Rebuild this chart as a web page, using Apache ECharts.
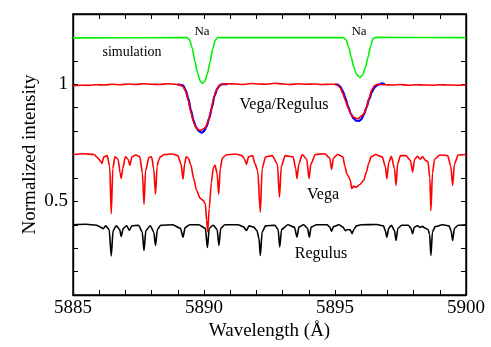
<!DOCTYPE html>
<html>
<head>
<meta charset="utf-8">
<script src="https://cdn.jsdelivr.net/npm/echarts@6/dist/echarts.min.js"></script>
<style>
  html, body { margin: 0; padding: 0; background: #fff; }
  #chart { width: 491px; height: 347px; }
</style>
</head>
<body>
<div id="chart"></div>
<script>
// axis settings
const xMin = 5885, xMax = 5900
const yMin = 0.1, yMax = 1.3

// simulated Na D lines (green)
const simulation = [
  [5885.0, 1.198], [5889.35, 1.199], [5889.45, 1.19], [5889.55, 1.155], [5889.65, 1.10],
  [5889.75, 1.05], [5889.85, 1.015], [5889.94, 1.003], [5890.03, 1.013], [5890.13, 1.045],
  [5890.23, 1.095], [5890.33, 1.15], [5890.43, 1.188], [5890.52, 1.199], [5895.32, 1.199],
  [5895.42, 1.19], [5895.52, 1.16], [5895.62, 1.115], [5895.72, 1.072], [5895.82, 1.042],
  [5895.95, 1.029], [5896.06, 1.04], [5896.16, 1.072], [5896.26, 1.115], [5896.36, 1.165],
  [5896.45, 1.195], [5896.55, 1.2], [5900.0, 1.199]
]

// fit (blue), only around the two dips
const fitD2 = [
  [5889.0, 1.0], [5889.2, 0.995], [5889.3, 0.975], [5889.4, 0.94], [5889.5, 0.89],
  [5889.6, 0.845], [5889.7, 0.815], [5889.8, 0.8], [5889.92, 0.793], [5890.0, 0.8],
  [5890.1, 0.82], [5890.2, 0.855], [5890.3, 0.9], [5890.4, 0.95], [5890.5, 0.98],
  [5890.6, 0.995], [5890.7, 1.0], [5890.9, 1.0]
]
const fitD1 = [
  [5895.0, 1.0], [5895.1, 0.998], [5895.2, 0.99], [5895.3, 0.97], [5895.4, 0.94],
  [5895.5, 0.905], [5895.6, 0.875], [5895.7, 0.855], [5895.8, 0.845], [5895.92, 0.843],
  [5896.0, 0.85], [5896.1, 0.87], [5896.2, 0.9], [5896.3, 0.935], [5896.4, 0.965],
  [5896.5, 0.985], [5896.6, 0.995], [5896.7, 1.0], [5896.8, 1.004], [5896.9, 1.0]
]

// Vega / Regulus ratio (red, top)
const ratio = [
  [5885.0, 0.994], [5885.3, 0.996], [5885.6, 0.995], [5885.9, 0.998], [5886.2, 0.997],
  [5886.5, 1.0], [5886.8, 0.998], [5887.1, 1.001], [5887.4, 0.999], [5887.7, 1.002],
  [5888.0, 1.0], [5888.3, 0.999], [5888.6, 1.002], [5888.9, 1.0], [5889.1, 0.997],
  [5889.2, 0.99], [5889.3, 0.97], [5889.4, 0.93], [5889.5, 0.88], [5889.6, 0.84],
  [5889.7, 0.815], [5889.8, 0.805], [5889.87, 0.803], [5889.95, 0.808], [5890.05, 0.815],
  [5890.15, 0.84], [5890.25, 0.88], [5890.35, 0.93], [5890.45, 0.97], [5890.55, 0.99],
  [5890.65, 1.0], [5890.9, 1.002], [5891.2, 1.001], [5891.5, 0.999], [5891.8, 1.003],
  [5892.1, 1.001], [5892.4, 1.0], [5892.7, 1.004], [5893.0, 1.001], [5893.3, 0.999],
  [5893.6, 1.002], [5893.9, 1.0], [5894.2, 1.001], [5894.5, 0.999], [5894.8, 1.0],
  [5895.0, 1.0], [5895.1, 0.997], [5895.2, 0.985], [5895.3, 0.96], [5895.4, 0.93],
  [5895.5, 0.9], [5895.6, 0.875], [5895.7, 0.86], [5895.8, 0.855], [5895.9, 0.853],
  [5896.0, 0.865], [5896.1, 0.872], [5896.2, 0.9], [5896.3, 0.94], [5896.4, 0.975],
  [5896.5, 0.993], [5896.6, 1.0], [5896.9, 0.998], [5897.2, 0.997], [5897.5, 0.999],
  [5897.8, 0.996], [5898.1, 0.998], [5898.4, 0.997], [5898.7, 0.996], [5899.0, 0.998],
  [5899.3, 0.997], [5899.6, 0.996], [5900.0, 0.997]
]

// Vega spectrum (red, middle)
const vega = [
  [5885.0, 0.7], [5885.4, 0.703], [5885.8, 0.7], [5885.95, 0.685], [5886.05, 0.672],
  [5886.1, 0.662], [5886.18, 0.69], [5886.3, 0.695], [5886.4, 0.65], [5886.46, 0.447],
  [5886.52, 0.64], [5886.6, 0.69], [5886.72, 0.68], [5886.8, 0.62], [5886.84, 0.598],
  [5886.9, 0.64], [5887.0, 0.69], [5887.1, 0.68], [5887.17, 0.654], [5887.25, 0.69],
  [5887.4, 0.698], [5887.55, 0.69], [5887.65, 0.62], [5887.71, 0.487], [5887.77, 0.63],
  [5887.9, 0.688], [5888.0, 0.69], [5888.08, 0.64], [5888.15, 0.53], [5888.21, 0.65],
  [5888.27, 0.675], [5888.33, 0.69], [5888.5, 0.7], [5888.8, 0.702], [5889.0, 0.695],
  [5889.12, 0.66], [5889.2, 0.595], [5889.26, 0.66], [5889.32, 0.69], [5889.4, 0.685],
  [5889.5, 0.655], [5889.6, 0.6], [5889.72, 0.547], [5889.85, 0.513], [5889.97, 0.504],
  [5890.05, 0.49], [5890.1, 0.42], [5890.14, 0.37], [5890.2, 0.47], [5890.28, 0.58],
  [5890.36, 0.645], [5890.42, 0.654], [5890.5, 0.62], [5890.56, 0.53], [5890.62, 0.64],
  [5890.7, 0.685], [5890.85, 0.698], [5891.2, 0.702], [5891.45, 0.695], [5891.55, 0.68],
  [5891.62, 0.658], [5891.7, 0.69], [5891.85, 0.695], [5891.95, 0.66], [5892.05, 0.63],
  [5892.15, 0.454], [5892.22, 0.64], [5892.35, 0.69], [5892.6, 0.695], [5892.8, 0.66],
  [5892.88, 0.518], [5892.95, 0.65], [5893.1, 0.695], [5893.4, 0.69], [5893.5, 0.64],
  [5893.55, 0.597], [5893.62, 0.66], [5893.75, 0.7], [5893.92, 0.68], [5894.01, 0.597],
  [5894.08, 0.66], [5894.25, 0.7], [5894.6, 0.703], [5894.8, 0.685], [5894.87, 0.636],
  [5894.94, 0.685], [5895.1, 0.7], [5895.3, 0.69], [5895.38, 0.65], [5895.45, 0.618],
  [5895.52, 0.605], [5895.58, 0.59], [5895.64, 0.554], [5895.7, 0.565], [5895.8, 0.56],
  [5895.95, 0.572], [5896.1, 0.59], [5896.2, 0.625], [5896.28, 0.66], [5896.38, 0.69],
  [5896.55, 0.7], [5896.8, 0.69], [5896.92, 0.65], [5896.98, 0.597], [5897.05, 0.665],
  [5897.15, 0.692], [5897.27, 0.64], [5897.33, 0.568], [5897.39, 0.66], [5897.5, 0.695],
  [5897.7, 0.695], [5897.88, 0.675], [5897.96, 0.625], [5898.04, 0.68], [5898.15, 0.692],
  [5898.25, 0.68], [5898.35, 0.69], [5898.45, 0.675], [5898.55, 0.67], [5898.62, 0.6],
  [5898.66, 0.46], [5898.72, 0.62], [5898.8, 0.68], [5899.0, 0.698], [5899.3, 0.695],
  [5899.42, 0.65], [5899.49, 0.568], [5899.56, 0.66], [5899.7, 0.698], [5900.0, 0.7]
]

// Regulus spectrum (black, bottom)
const regulus = [
  [5885.0, 0.4], [5885.5, 0.402], [5885.9, 0.398], [5886.05, 0.39], [5886.15, 0.383],
  [5886.25, 0.395], [5886.38, 0.38], [5886.46, 0.267], [5886.53, 0.375], [5886.65, 0.396],
  [5886.78, 0.38], [5886.84, 0.35], [5886.92, 0.385], [5887.05, 0.396], [5887.15, 0.376],
  [5887.25, 0.396], [5887.5, 0.398], [5887.64, 0.37], [5887.71, 0.29], [5887.78, 0.375],
  [5887.95, 0.396], [5888.08, 0.37], [5888.15, 0.312], [5888.22, 0.38], [5888.35, 0.398],
  [5888.8, 0.4], [5889.1, 0.385], [5889.2, 0.347], [5889.28, 0.388], [5889.45, 0.4],
  [5889.8, 0.4], [5890.05, 0.385], [5890.13, 0.303], [5890.2, 0.385], [5890.35, 0.398],
  [5890.5, 0.38], [5890.57, 0.312], [5890.64, 0.385], [5890.8, 0.4], [5891.3, 0.4],
  [5891.5, 0.392], [5891.62, 0.376], [5891.72, 0.395], [5891.9, 0.39], [5892.02, 0.375],
  [5892.1, 0.34], [5892.15, 0.269], [5892.22, 0.37], [5892.35, 0.395], [5892.7, 0.398],
  [5892.83, 0.38], [5892.89, 0.305], [5892.96, 0.38], [5893.2, 0.4], [5893.45, 0.39],
  [5893.55, 0.347], [5893.62, 0.39], [5893.8, 0.4], [5893.95, 0.385], [5894.02, 0.347],
  [5894.09, 0.39], [5894.3, 0.4], [5894.7, 0.4], [5894.8, 0.39], [5894.87, 0.372],
  [5894.94, 0.392], [5895.15, 0.4], [5895.3, 0.39], [5895.4, 0.375], [5895.48, 0.38],
  [5895.58, 0.378], [5895.65, 0.362], [5895.72, 0.38], [5895.82, 0.395], [5896.0, 0.4],
  [5896.6, 0.401], [5896.85, 0.395], [5896.92, 0.375], [5896.98, 0.347], [5897.05, 0.385],
  [5897.15, 0.398], [5897.27, 0.375], [5897.33, 0.333], [5897.4, 0.385], [5897.55, 0.398],
  [5897.8, 0.398], [5897.9, 0.385], [5897.96, 0.362], [5898.03, 0.39], [5898.15, 0.396],
  [5898.25, 0.388], [5898.33, 0.393], [5898.45, 0.385], [5898.55, 0.38], [5898.61, 0.36],
  [5898.66, 0.269], [5898.72, 0.37], [5898.82, 0.392], [5899.1, 0.4], [5899.35, 0.395],
  [5899.43, 0.375], [5899.49, 0.333], [5899.56, 0.385], [5899.7, 0.398], [5900.0, 0.4]
]

const serif = '"Liberation Serif", "DejaVu Serif", serif'

const chart = echarts.init(document.getElementById('chart'))

const near = (a, b) => Math.abs(a - b) < 1e-6

const lineSeries = (data, color, width) => ({
  type: 'line',
  data: data,
  showSymbol: false,
  smooth: 0.25,
  smoothMonotone: 'x',
  animation: false,
  lineStyle: { color: color, width: width },
})

const option = {
  animation: false,
  grid: {
    left: 73, right: 25, top: 14, bottom: 52,
    show: true, borderColor: '#000', borderWidth: 1.4,
  },
  xAxis: [
    {
      type: 'value',
      min: xMin, max: xMax, interval: 1,
      axisLine: { show: true, lineStyle: { color: '#000', width: 1.4 } },
      axisTick: { show: true, inside: true, length: 5, lineStyle: { color: '#000' } },
      splitLine: { show: false },
      axisLabel: {
        margin: 4,
        color: '#000', fontFamily: serif, fontSize: 19,
        formatter: (v) => (v % 5 === 0 ? String(v) : ''),
      },
      name: 'Wavelength (Å)',
      nameLocation: 'middle',
      nameGap: 27,
      nameMoveOverlap: false,
      nameTextStyle: { color: '#000', fontFamily: serif, fontSize: 19 },
    },
    {
      type: 'value', position: 'top',
      min: xMin, max: xMax, interval: 1,
      axisLine: { show: true, lineStyle: { color: '#000', width: 1.4 } },
      axisTick: { show: true, inside: true, length: 5, lineStyle: { color: '#000' } },
      axisLabel: { show: false },
      splitLine: { show: false },
    },
  ],
  yAxis: [
    {
      type: 'value',
      min: yMin, max: yMax, interval: 0.1,
      axisLine: { show: true, lineStyle: { color: '#000', width: 1.4 } },
      axisTick: { show: true, inside: true, length: 5, lineStyle: { color: '#000' } },
      splitLine: { show: false },
      axisLabel: {
        margin: 5,
        color: '#000', fontFamily: serif, fontSize: 19,
        formatter: (v) => (near(v, 1) ? '1' : near(v, 0.5) ? '0.5' : ''),
      },
      name: 'Normalized intensity',
      nameLocation: 'middle',
      nameGap: 33,
      nameMoveOverlap: false,
      nameTextStyle: { color: '#000', fontFamily: serif, fontSize: 19 },
    },
    {
      type: 'value', position: 'right',
      min: yMin, max: yMax, interval: 0.1,
      axisLine: { show: true, lineStyle: { color: '#000', width: 1.4 } },
      axisTick: { show: true, inside: true, length: 5, lineStyle: { color: '#000' } },
      axisLabel: { show: false },
      splitLine: { show: false },
    },
  ],
  series: [
    lineSeries(simulation, '#00ee00', 1.6),
    lineSeries(fitD2, '#0000ff', 2.2),
    lineSeries(fitD1, '#0000ff', 2.2),
    lineSeries(ratio, '#ff0000', 1.6),
    lineSeries(vega, '#ff0000', 1.6),
    lineSeries(regulus, '#000000', 1.6),
  ],
  graphic: [
    { type: 'text', x: 132, y: 52, style: { text: 'simulation', font: '14px ' + serif, fill: '#000', align: 'center', verticalAlign: 'middle' } },
    { type: 'text', x: 202, y: 32, style: { text: 'Na', font: '13px ' + serif, fill: '#000', align: 'center', verticalAlign: 'middle' } },
    { type: 'text', x: 359, y: 32, style: { text: 'Na', font: '13px ' + serif, fill: '#000', align: 'center', verticalAlign: 'middle' } },
    { type: 'text', x: 284, y: 105, style: { text: 'Vega/Regulus', font: '16px ' + serif, fill: '#000', align: 'center', verticalAlign: 'middle' } },
    { type: 'text', x: 323, y: 195, style: { text: 'Vega', font: '16px ' + serif, fill: '#000', align: 'center', verticalAlign: 'middle' } },
    { type: 'text', x: 321, y: 254, style: { text: 'Regulus', font: '16px ' + serif, fill: '#000', align: 'center', verticalAlign: 'middle' } },
  ],
}

chart.setOption(option)
</script>
</body>
</html>
